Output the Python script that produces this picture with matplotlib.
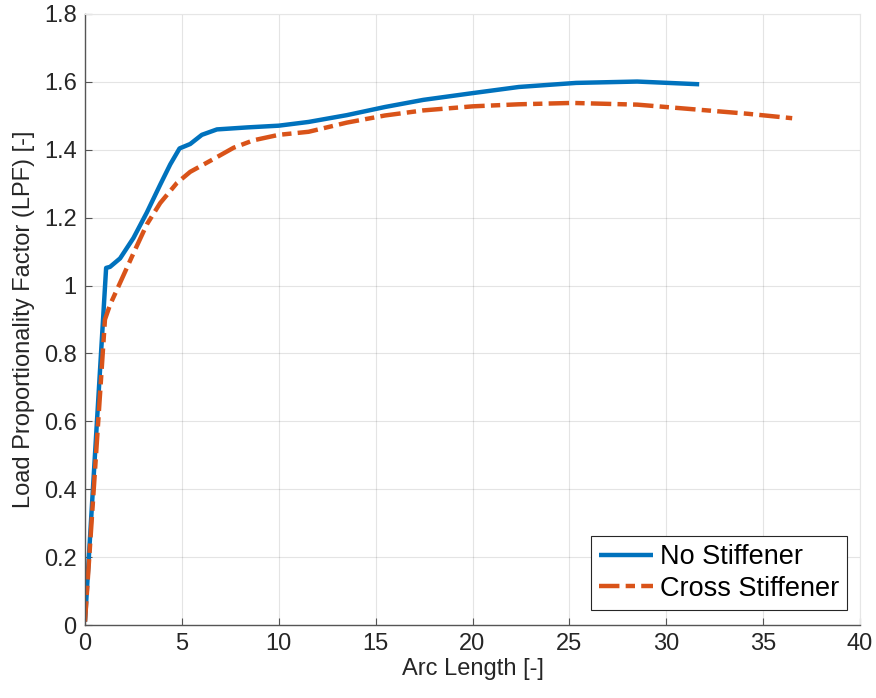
import matplotlib
matplotlib.use('Agg')
import matplotlib.pyplot as plt

plt.rcParams['font.family'] = ['Liberation Sans', 'DejaVu Sans']

# No Stiffener
arc_no = [0.0, 1.09, 1.29, 1.81, 2.5, 3.19, 3.88, 4.4, 4.88, 5.43, 6.03, 6.81, 8.4,
          10.0, 11.54, 13.51, 15.48, 17.46, 20.02, 22.39, 25.35, 28.5, 31.7]
lpf_no = [0.01, 1.052, 1.055, 1.08, 1.14, 1.215, 1.297, 1.357, 1.404, 1.417, 1.444, 1.46, 1.466,
          1.471, 1.482, 1.502, 1.526, 1.547, 1.567, 1.585, 1.597, 1.601, 1.593]

# Cross Stiffener
arc_cross = [0.0, 1.03, 1.29, 1.81, 2.5, 3.19, 3.88, 4.74, 5.43, 6.64, 7.67, 8.7, 10.0,
             11.54, 13.51, 15.48, 17.46, 20.02, 22.39, 25.15, 28.5, 31.26, 34.22, 36.5]
lpf_cross = [0.01, 0.9, 0.943, 1.008, 1.095, 1.18, 1.243, 1.302, 1.335, 1.373, 1.406, 1.428, 1.444,
             1.453, 1.48, 1.501, 1.516, 1.528, 1.534, 1.538, 1.533, 1.52, 1.506, 1.493]

blue = '#0072BD'
orange = '#D95319'
dark = '#262626'

fig = plt.figure(figsize=(8.76, 6.98), dpi=100)
ax = fig.add_axes([85/876, 73/698, 775/876, 611/698])

ax.plot(arc_no, lpf_no, color=blue, lw=3.2, label='No Stiffener', solid_capstyle='butt')
ln, = ax.plot(arc_cross, lpf_cross, color=orange, lw=3.2, label='Cross Stiffener')
ln.set_dashes([4.6, 1.4, 2.1, 1.4])
ln.set_dash_capstyle('butt')

ax.set_xlim(0, 40)
ax.set_ylim(0, 1.8)
ax.set_xticks(range(0, 41, 5))
ax.set_yticks([0, 0.2, 0.4, 0.6, 0.8, 1.0, 1.2, 1.4, 1.6, 1.8])
ax.set_yticklabels(['0', '0.2', '0.4', '0.6', '0.8', '1', '1.2', '1.4', '1.6', '1.8'])

ax.grid(True, color='#262626', alpha=0.12, lw=0.8)
ax.set_axisbelow(True)
for s in ['top', 'right']:
    ax.spines[s].set_color('#e6e6e6')
for s in ['left', 'bottom']:
    ax.spines[s].set_color('#555555')
    ax.spines[s].set_linewidth(1.0)

ax.tick_params(direction='in', length=5, width=0.8, color='#555555',
               labelsize=17, labelcolor=dark, pad=6)
ax.set_xlabel('Arc Length [-]', fontsize=17, color=dark, labelpad=2)
ax.set_ylabel('Load Proportionality Factor (LPF) [-]', fontsize=17, color=dark, labelpad=6)

leg = ax.legend(loc='lower right', bbox_to_anchor=(1 - 13/775, 15/611), fontsize=19.5,
                frameon=True, fancybox=False, borderaxespad=0, handlelength=2.0,
                handletextpad=0.25, borderpad=0.3, labelspacing=0.2)
leg.get_frame().set_edgecolor('#262626')
leg.get_frame().set_linewidth(0.8)
leg.get_frame().set_alpha(1)

fig.savefig('out.png', dpi=100)
